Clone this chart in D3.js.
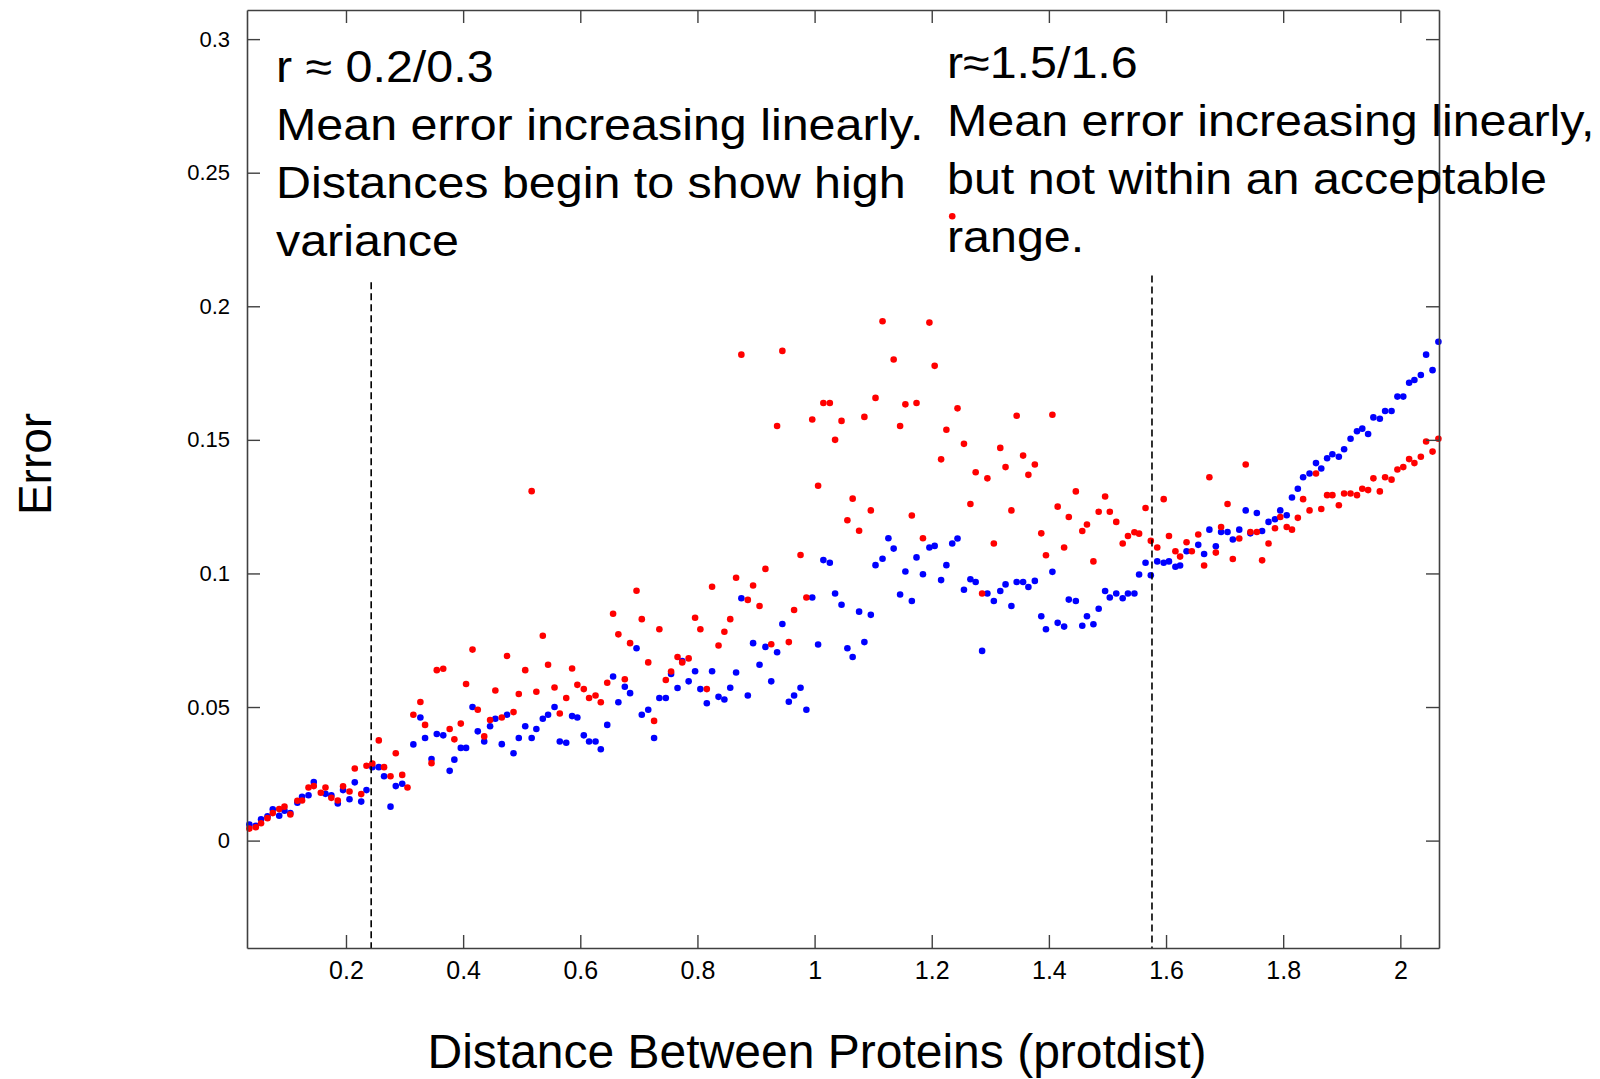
<!DOCTYPE html>
<html>
<head>
<meta charset="utf-8">
<script src="https://cdn.jsdelivr.net/npm/d3@7"></script>
<style>
  body { margin: 0; background: #fff; }
  svg { display: block; font-family: "Liberation Sans", Arial, sans-serif; }
</style>
</head>
<body>
<div id="chart"></div>
<script>
// blue series
const blueX = [0.035,0.046,0.055,0.066,0.075,0.086,0.095,0.105,0.117,0.125,0.136,0.145,0.165,0.175,0.186,0.195,0.206,0.215,0.226,0.235,0.245,0.256,0.265,0.276,0.285,0.296,0.315,0.327,0.335,0.346,0.355,0.366,0.377,0.385,0.396,0.405,0.416,0.425,
  0.436,0.446,0.455,0.466,0.475,0.486,0.495,0.506,0.517,0.525,0.536,0.545,0.556,0.565,0.576,0.586,0.595,0.606,0.615,0.626,0.635,0.646,0.656,0.665,0.676,0.685,0.696,0.705,0.716,0.726,0.735,0.746,0.755,0.766,0.774,0.785,0.796,0.805,0.816,0.825,
  0.836,0.846,0.856,0.866,0.875,0.886,0.895,0.906,0.916,0.926,0.936,0.945,0.956,0.965,0.976,0.986,0.996,1.006,1.015,1.026,1.035,1.046,1.056,1.065,1.076,1.085,1.096,1.104,1.116,1.126,1.135,1.146,1.155,1.166,1.174,1.185,1.196,1.205,1.216,1.225,
  1.235,1.244,1.255,1.266,1.275,1.286,1.295,1.306,1.317,1.326,1.336,1.345,1.356,1.365,1.376,1.387,1.395,1.406,1.415,1.426,1.434,1.446,1.457,1.465,1.476,1.485,1.496,1.504,1.515,1.526,1.535,1.546,1.554,1.565,1.574,1.585,1.596,1.605,1.616,1.624,
  1.635,1.655,1.665,1.674,1.685,1.694,1.705,1.714,1.725,1.736,1.744,1.755,1.764,1.775,1.786,1.795,1.806,1.815,1.825,1.834,1.845,1.856,1.865,1.875,1.884,1.895,1.904,1.915,1.926,1.935,1.945,1.954,1.965,1.974,1.985,1.995,2.005,2.015,2.024,2.035,2.044,2.055,2.065];
const blueY = [0.0060,0.0055,0.0080,0.0091,0.0117,0.0093,0.0112,0.0103,0.0142,0.0164,0.0170,0.0219,0.0175,0.0170,0.0139,0.0189,0.0155,0.0218,0.0146,0.0189,0.0275,0.0275,0.0241,0.0127,0.0204,0.0213,0.0360,0.0461,0.0384,0.0305,0.0399,0.0394,0.0261,0.0303,0.0347,0.0347,0.0500,0.0409,
  0.0371,0.0428,0.0456,0.0361,0.0471,0.0327,0.0384,0.0428,0.0384,0.0418,0.0456,0.0471,0.0500,0.0371,0.0366,0.0466,0.0461,0.0394,0.0371,0.0371,0.0342,0.0433,0.0614,0.0518,0.0576,0.0552,0.0720,0.0471,0.0490,0.0384,0.0534,0.0534,0.0624,0.0571,0.0672,0.0596,0.0634,0.0567,0.0514,0.0634,
  0.0538,0.0528,0.0572,0.0629,0.0907,0.0543,0.0739,0.0658,0.0725,0.0596,0.0705,0.0811,0.0520,0.0543,0.0572,0.0490,0.0910,0.0734,0.1050,0.1040,0.0925,0.0883,0.0720,0.0687,0.0857,0.0743,0.0845,0.1031,0.1055,0.1132,0.1093,0.0921,0.1007,0.0897,0.1060,0.0997,0.1097,0.1103,0.0975,0.1031,
  0.1112,0.1131,0.0939,0.0978,0.0968,0.0710,0.0925,0.0897,0.0934,0.0959,0.0878,0.0968,0.0968,0.0949,0.0972,0.0840,0.0791,0.1006,0.0815,0.0801,0.0902,0.0897,0.0804,0.0840,0.0810,0.0868,0.0934,0.0910,0.0925,0.0907,0.0925,0.0925,0.0996,0.1040,0.0993,0.1045,0.1040,0.1045,0.1025,0.1030,
  0.1083,0.1107,0.1073,0.1164,0.1102,0.1155,0.1155,0.1127,0.1164,0.1236,0.1150,0.1226,0.1159,0.1193,0.1203,0.1236,0.1218,0.1284,0.1317,0.1360,0.1374,0.1413,0.1393,0.1431,0.1446,0.1437,0.1465,0.1504,0.1532,0.1542,0.1522,0.1584,0.1579,0.1608,0.1608,0.1662,0.1662,0.1714,0.1724,0.1743,0.1819,0.1761,0.1867];

// red series
const redX = [0.035,0.046,0.055,0.066,0.075,0.086,0.095,0.105,0.117,0.125,0.136,0.145,0.157,0.165,0.175,0.186,0.195,0.206,0.215,0.226,0.235,0.245,0.256,0.265,0.276,0.285,0.296,0.305,0.315,0.327,0.335,0.346,0.355,0.366,0.377,0.385,0.396,0.405,0.416,0.425,
  0.436,0.446,0.455,0.466,0.475,0.486,0.495,0.506,0.517,0.525,0.536,0.545,0.556,0.565,0.576,0.586,0.595,0.606,0.615,0.626,0.635,0.646,0.656,0.665,0.676,0.685,0.696,0.705,0.716,0.726,0.735,0.746,0.755,0.766,0.774,0.785,0.796,0.805,0.816,0.825,
  0.836,0.846,0.856,0.866,0.875,0.886,0.895,0.906,0.916,0.926,0.936,0.945,0.956,0.965,0.976,0.986,0.996,1.006,1.015,1.026,1.035,1.046,1.056,1.065,1.076,1.085,1.096,1.104,1.116,1.135,1.146,1.155,1.166,1.174,1.185,1.196,1.205,1.216,1.225,
  1.235,1.244,1.255,1.266,1.275,1.286,1.295,1.306,1.317,1.326,1.336,1.345,1.356,1.365,1.376,1.387,1.395,1.406,1.415,1.426,1.434,1.446,1.457,1.465,1.476,1.485,1.496,1.504,1.515,1.526,1.535,1.546,1.554,1.565,1.574,1.585,1.596,1.605,1.616,1.624,
  1.635,1.644,1.655,1.665,1.674,1.685,1.694,1.705,1.714,1.725,1.736,1.744,1.755,1.764,1.775,1.786,1.795,1.806,1.815,1.825,1.834,1.845,1.856,1.865,1.875,1.884,1.895,1.904,1.915,1.926,1.935,1.945,1.954,1.965,1.974,1.985,1.995,2.005,2.015,2.024,2.035,2.044,2.055,2.065];
const redY = [0.0045,0.0050,0.0065,0.0084,0.0103,0.0118,0.0127,0.0098,0.0149,0.0150,0.0199,0.0204,0.0179,0.0199,0.0160,0.0150,0.0203,0.0184,0.0270,0.0174,0.0280,0.0288,0.0375,0.0275,0.0241,0.0327,0.0246,0.0199,0.0471,0.0519,0.0433,0.0290,0.0638,0.0643,0.0418,0.0379,0.0438,0.0586,0.0715,0.0490,
  0.0390,0.0451,0.0562,0.0461,0.0691,0.0481,0.0549,0.0638,0.1308,0.0557,0.0767,0.0658,0.0573,0.0476,0.0534,0.0644,0.0583,0.0567,0.0534,0.0543,0.0518,0.0591,0.0849,0.0772,0.0604,0.0739,0.0935,0.0829,0.0667,0.0448,0.0791,0.0601,0.0633,0.0687,0.0667,0.0682,0.0834,0.0791,0.0567,0.0950,
  0.0730,0.0782,0.0829,0.0984,0.1819,0.0901,0.0955,0.0878,0.1017,0.0735,0.1552,0.1833,0.0743,0.0863,0.1069,0.0910,0.1576,0.1328,0.1638,0.1638,0.1500,0.1571,0.1199,0.1280,0.1160,0.1586,0.1236,0.1657,0.1944,0.1801,0.1552,0.1633,0.1217,0.1638,0.1132,0.1939,0.1777,0.1427,0.1538,
  0.2337,0.1618,0.1485,0.1260,0.1379,0.0925,0.1356,0.1112,0.1470,0.1398,0.1236,0.1590,0.1441,0.1369,0.1408,0.1150,0.1068,0.1594,0.1250,0.1097,0.1211,0.1307,0.1159,0.1183,0.1045,0.1231,0.1288,0.1231,0.1193,0.1112,0.1140,0.1154,0.1149,0.1245,0.1122,0.1097,0.1278,0.1140,0.1083,0.1063,
  0.1117,0.1083,0.1146,0.1030,0.1360,0.1078,0.1174,0.1260,0.1054,0.1131,0.1408,0.1155,0.1155,0.1049,0.1112,0.1169,0.1211,0.1174,0.1164,0.1208,0.1278,0.1236,0.1374,0.1241,0.1293,0.1293,0.1255,0.1299,0.1299,0.1293,0.1317,0.1312,0.1356,0.1307,0.1360,0.1351,0.1389,0.1398,0.1428,0.1413,0.1437,0.1494,0.1456,0.1504];

const xTicks = [0.2, 0.4, 0.6, 0.8, 1, 1.2, 1.4, 1.6, 1.8, 2];
const yTicks = [0, 0.05, 0.1, 0.15, 0.2, 0.25, 0.3];

// dashed cut-off lines (x position, top of line)
const cutX = [0.243, 1.576];
const cutTop = [0.209, 0.2115];

const noteLeft = ["r \u2248 0.2/0.3", "Mean error increasing linearly.", "Distances begin to show high", "variance"];
const noteRight = ["r\u22481.5/1.6", "Mean error increasing linearly,", "but not within an acceptable", "range."];

const xLabel = "Distance Between Proteins (protdist)";
const yLabel = "Error";

const width = 1600, height = 1079;
const margin = { top: 10, right: 161, bottom: 131, left: 247 };
const innerW = width - margin.left - margin.right,
      innerH = height - margin.top - margin.bottom;

const svg = d3.select("#chart").append("svg")
  .attr("width", width)
  .attr("height", height);

const g = svg.append("g")
  .attr("transform", `translate(${margin.left},${margin.top})`);

const x = d3.scaleLinear().domain([0.031, 2.066]).range([0, innerW]);
const y = d3.scaleLinear().domain([-0.0402, 0.3109]).range([innerH, 0]);

const frame = "#404040";
const fmt = d => String(+d.toFixed(2));

// points
const blue = blueX.map((v, i) => ({ x: v, y: blueY[i] }));
const red = redX.map((v, i) => ({ x: v, y: redY[i] }));

g.append("g").selectAll("circle")
  .data(blue).enter().append("circle")
  .attr("cx", d => x(d.x))
  .attr("cy", d => y(d.y))
  .attr("r", 3.3)
  .attr("fill", "#0000ff");

g.append("g").selectAll("circle")
  .data(red).enter().append("circle")
  .attr("cx", d => x(d.x))
  .attr("cy", d => y(d.y))
  .attr("r", 3.3)
  .attr("fill", "#ff0000");

// cut-off lines
g.append("g").selectAll("line")
  .data(cutX).enter().append("line")
  .attr("x1", d => x(d)).attr("x2", d => x(d))
  .attr("y1", (d, i) => y(cutTop[i]))
  .attr("y2", innerH)
  .attr("stroke", "#000")
  .attr("stroke-width", 1.6)
  .attr("stroke-dasharray", "7,4");

// axes (ticks point inward, MATLAB style)
const styleAxis = sel => {
  sel.select(".domain").attr("stroke", frame).attr("stroke-width", 1.6);
  sel.selectAll(".tick line").attr("stroke", frame).attr("stroke-width", 1.4);
  sel.selectAll(".tick text").attr("fill", "#000");
};

g.append("g")
  .attr("transform", `translate(0,${innerH})`)
  .call(d3.axisBottom(x).tickValues(xTicks).tickFormat(fmt).tickSize(-13).tickSizeOuter(0).tickPadding(13))
  .call(styleAxis)
  .style("font-size", "25px")
  .style("font-family", "inherit");

g.append("g")
  .call(d3.axisTop(x).tickValues(xTicks).tickFormat("").tickSize(-13).tickSizeOuter(0))
  .call(styleAxis);

g.append("g")
  .call(d3.axisLeft(y).tickValues(yTicks).tickFormat(fmt).tickSize(-13).tickSizeOuter(0).tickPadding(17))
  .call(styleAxis)
  .style("font-size", "22px")
  .style("font-family", "inherit");

g.append("g")
  .attr("transform", `translate(${innerW},0)`)
  .call(d3.axisRight(y).tickValues(yTicks).tickFormat("").tickSize(-13).tickSizeOuter(0))
  .call(styleAxis);

// axis titles
svg.append("text")
  .attr("transform", "translate(817,1068)")
  .attr("text-anchor", "middle")
  .style("font-size", "48px")
  .text(xLabel);

svg.append("text")
  .attr("transform", "translate(51,464) rotate(-90)")
  .attr("text-anchor", "middle")
  .style("font-size", "46px")
  .text(yLabel);

// annotations
const note = (lines, px, py) => {
  const t = svg.append("g")
    .attr("transform", `translate(${px},${py}) scale(1.1,1)`);
  t.selectAll("text")
    .data(lines).enter().append("text")
    .attr("x", 0)
    .attr("y", (d, i) => i * 58)
    .style("font-size", "44px")
    .text(d => d);
};
note(noteLeft, 276, 82);
note(noteRight, 947, 78);
</script>
</body>
</html>
